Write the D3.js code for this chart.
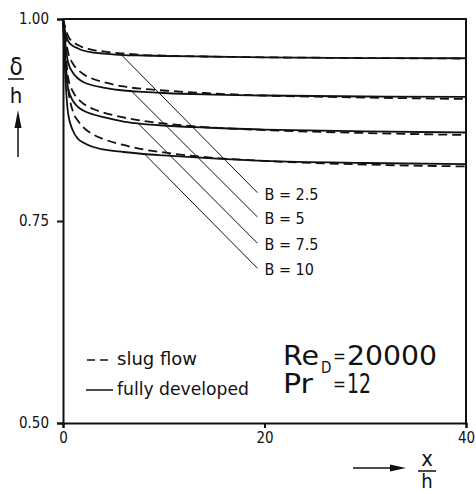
<!DOCTYPE html>
<html>
<head>
<meta charset="utf-8">
<script src="https://cdn.jsdelivr.net/npm/d3@7"></script>
<style>
  body { margin: 0; background: #fff; }
  svg text { font-family: "DejaVu Sans Condensed", "DejaVu Sans", sans-serif; fill: #111; }
</style>
</head>
<body>
<div id="chart"></div>
<script>
// x/h sample points along each curve
let xh = [0, 0.25, 0.5, 1, 1.5, 2, 3, 4, 6, 8, 10, 14, 20, 30, 40];
let bValues = [2.5, 5, 7.5, 10];
let bLabels = ["B = 2.5", "B = 5", "B = 7.5", "B = 10"];

// delta/h, fully developed (solid)
let fullyDeveloped = [
    [1.0, 0.9827, 0.9728, 0.9666, 0.9635, 0.9610, 0.9585, 0.9573, 0.9554, 0.9548, 0.9542, 0.9536, 0.9526, 0.9517, 0.9514],
    [1.0, 0.9678, 0.9468, 0.9332, 0.9264, 0.9220, 0.9177, 0.9152, 0.9115, 0.9097, 0.9084, 0.9066, 0.9053, 0.9041, 0.9035],
    [1.0, 0.9493, 0.9146, 0.8985, 0.8911, 0.8868, 0.8818, 0.8787, 0.8731, 0.8700, 0.8682, 0.8657, 0.8632, 0.8608, 0.8595],
    [1.0, 0.9245, 0.8837, 0.8614, 0.8515, 0.8472, 0.8416, 0.8385, 0.8354, 0.8329, 0.8311, 0.8280, 0.8243, 0.8218, 0.8205]
];

// delta/h, slug flow (dashed)
let slugFlow = [
    [1.0, 0.9889, 0.9790, 0.9715, 0.9678, 0.9647, 0.9616, 0.9598, 0.9573, 0.9554, 0.9546, 0.9536, 0.9526, 0.9517, 0.9511],
    [1.0, 0.9765, 0.9592, 0.9443, 0.9369, 0.9319, 0.9257, 0.9220, 0.9165, 0.9134, 0.9115, 0.9084, 0.9053, 0.9028, 0.9010],
    [1.0, 0.9616, 0.9282, 0.9097, 0.9010, 0.8954, 0.8886, 0.8843, 0.8781, 0.8738, 0.8707, 0.8663, 0.8626, 0.8589, 0.8564],
    [1.0, 0.9468, 0.9146, 0.8849, 0.8738, 0.8663, 0.8571, 0.8515, 0.8441, 0.8385, 0.8348, 0.8292, 0.8243, 0.8199, 0.8175]
];

// leader lines from curve to B label
let leaderStartX = [5.8, 6.8, 7.45, 8.1];
let leaderEndX = 19.3;
let leaderEndY = [0.785, 0.755, 0.7225, 0.6915];

let yTicks = [0.50, 0.75, 1.00];
let xTicks = [0, 20, 40];

let svgWidth = 476;
let svgHeight = 494;

let svg = d3.select("#chart")
    .append("svg")
    .attr("width", svgWidth)
    .attr("height", svgHeight);

let x = d3.scaleLinear().domain([0, 40]).range([63, 466]);
let y = d3.scaleLinear().domain([0.5, 1.0]).range([423, 19]);

//---------------------------------------------------------------------------------------------
// axes + frame

let yAxis = svg.append("g")
    .attr("transform", `translate(${x(0)}, 0)`)
    .call(d3.axisLeft(y).tickValues(yTicks).tickFormat(d3.format(".2f")).tickSize(6).tickPadding(8));

let xAxis = svg.append("g")
    .attr("transform", `translate(0, ${y(0.5)})`)
    .call(d3.axisBottom(x).tickValues(xTicks).tickSize(5).tickPadding(4));

[yAxis, xAxis].forEach(function (ax) {
    ax.selectAll("path, line").attr("stroke", "#111").attr("stroke-width", 2);
    ax.selectAll("text").attr("font-size", 15).attr("fill", "#111")
        .style("font-family", "'DejaVu Sans Condensed', 'DejaVu Sans', sans-serif");
});

svg.append("path")
    .attr("d", `M${x(0)},${y(1)}H${x(40)}V${y(0.5)}`)
    .attr("fill", "none")
    .attr("stroke", "#111")
    .attr("stroke-width", 2);

//---------------------------------------------------------------------------------------------
// curves

let line = d3.line()
    .x((d, i) => x(xh[i]))
    .y(d => y(d))
    .curve(d3.curveMonotoneX);

svg.append("g").selectAll("path")
    .data(fullyDeveloped)
    .enter()
    .append("path")
    .attr("d", line)
    .attr("fill", "none")
    .attr("stroke", "#111")
    .attr("stroke-width", 1.8);

svg.append("g").selectAll("path")
    .data(slugFlow)
    .enter()
    .append("path")
    .attr("d", line)
    .attr("fill", "none")
    .attr("stroke", "#111")
    .attr("stroke-width", 1.8)
    .attr("stroke-dasharray", "9,5");

//---------------------------------------------------------------------------------------------
// B labels with leaders

function onCurve(series, xv) {
    let i = d3.bisectRight(xh, xv) - 1;
    let t = (xv - xh[i]) / (xh[i + 1] - xh[i]);
    return series[i] + t * (series[i + 1] - series[i]);
}

bValues.forEach(function (b, i) {
    svg.append("line")
        .attr("x1", x(leaderStartX[i]))
        .attr("y1", y(onCurve(fullyDeveloped[i], leaderStartX[i])))
        .attr("x2", x(leaderEndX))
        .attr("y2", y(leaderEndY[i]))
        .attr("stroke", "#111")
        .attr("stroke-width", 1);
    svg.append("text")
        .attr("x", x(leaderEndX) + 7)
        .attr("y", y(leaderEndY[i]) + 7)
        .attr("font-size", 16)
        .text(bLabels[i]);
});

//---------------------------------------------------------------------------------------------
// legend

svg.append("line")
    .attr("x1", 87).attr("x2", 113).attr("y1", 360).attr("y2", 360)
    .attr("stroke", "#111").attr("stroke-width", 1.5).attr("stroke-dasharray", "8,5");
svg.append("text").attr("x", 117).attr("y", 365).attr("font-size", 18)
    .attr("textLength", 80).attr("lengthAdjust", "spacingAndGlyphs").text("slug flow");

svg.append("line")
    .attr("x1", 86).attr("x2", 113).attr("y1", 390).attr("y2", 390)
    .attr("stroke", "#111").attr("stroke-width", 1.5);
svg.append("text").attr("x", 117).attr("y", 395).attr("font-size", 18)
    .attr("textLength", 132).attr("lengthAdjust", "spacingAndGlyphs").text("fully developed");

svg.append("text").attr("x", 283).attr("y", 365).attr("font-size", 27)
    .attr("textLength", 36).attr("lengthAdjust", "spacingAndGlyphs").text("Re");
svg.append("text").attr("x", 321).attr("y", 373).attr("font-size", 15).text("D");
svg.append("text").attr("x", 333).attr("y", 362).attr("font-size", 17).text("=");
svg.append("text").attr("x", 347).attr("y", 365).attr("font-size", 27)
    .attr("textLength", 90).attr("lengthAdjust", "spacingAndGlyphs").text("20000");

svg.append("text").attr("x", 283).attr("y", 393).attr("font-size", 27)
    .attr("textLength", 30).attr("lengthAdjust", "spacingAndGlyphs").text("Pr");
svg.append("text").attr("x", 333).attr("y", 390).attr("font-size", 17).text("=");
svg.append("text").attr("x", 347).attr("y", 393).attr("font-size", 27)
    .attr("textLength", 24).attr("lengthAdjust", "spacingAndGlyphs").text("12");

//---------------------------------------------------------------------------------------------
// axis titles

svg.append("text").attr("x", 16).attr("y", 75).attr("text-anchor", "middle").attr("font-size", 24).text("δ");
svg.append("line").attr("x1", 8).attr("x2", 24).attr("y1", 79).attr("y2", 79).attr("stroke", "#111").attr("stroke-width", 1.5);
svg.append("text").attr("x", 16).attr("y", 103).attr("text-anchor", "middle").attr("font-size", 22).text("h");
svg.append("line").attr("x1", 18).attr("x2", 18).attr("y1", 157).attr("y2", 125).attr("stroke", "#111").attr("stroke-width", 1.5);
svg.append("path").attr("d", "M18,110L14.5,128L21.5,128Z").attr("fill", "#111");

svg.append("line").attr("x1", 353).attr("x2", 392).attr("y1", 468).attr("y2", 468).attr("stroke", "#111").attr("stroke-width", 1.5);
svg.append("path").attr("d", "M406,468L390,464.5L390,471.5Z").attr("fill", "#111");
svg.append("text").attr("x", 427).attr("y", 466).attr("text-anchor", "middle").attr("font-size", 22).text("x");
svg.append("line").attr("x1", 418).attr("x2", 436).attr("y1", 471).attr("y2", 471).attr("stroke", "#111").attr("stroke-width", 1.5);
svg.append("text").attr("x", 427).attr("y", 488).attr("text-anchor", "middle").attr("font-size", 20).text("h");
</script>
</body>
</html>
